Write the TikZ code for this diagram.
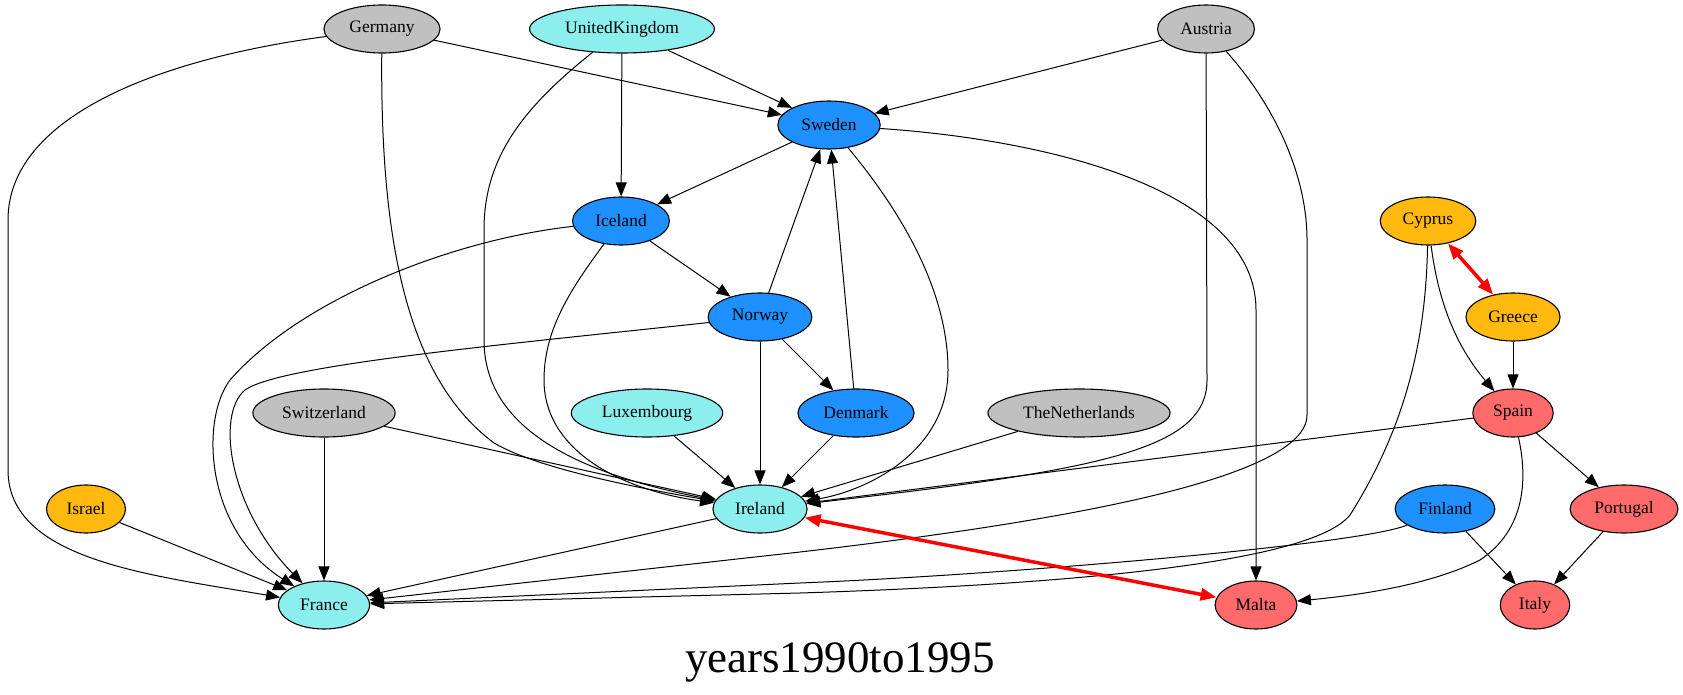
\documentclass[tikz,border=0pt]{standalone}
\usepackage{fontspec}
\setmainfont{Liberation Serif}
\usetikzlibrary{arrows.meta,shapes.geometric}
\definecolor{cgrey}{HTML}{C0C0C0}
\definecolor{ccyan}{HTML}{8DEEEE}
\definecolor{cblue}{HTML}{1E90FF}
\definecolor{cgold}{HTML}{FFB90F}
\definecolor{cred}{HTML}{FF6A6A}
\begin{document}
\begin{tikzpicture}[x=1pt,y=-1pt,
   country/.style={draw,ellipse,line width=1.1pt,minimum height=48pt,inner xsep=8.5pt,inner ysep=2pt,font=\fontsize{17.5}{20}\selectfont},
   link/.style={line width=1pt,-{Triangle[length=14pt,width=11pt]}},
   treaty/.style={red,line width=3.5pt,{Triangle[length=16pt,width=12pt]}-{Triangle[length=16pt,width=12pt]}}]
   \useasboundingbox (0,0) rectangle (1683,695);
   % row 1
   \node[country,fill=cgrey] (germany) at (382,29) {Germany};
   \node[country,fill=ccyan] (uk) at (622,29) {UnitedKingdom};
   \node[country,fill=cgrey] (austria) at (1206,29) {Austria};
   % row 2
   \node[country,fill=cblue] (sweden) at (829,125) {Sweden};
   % row 3
   \node[country,fill=cblue] (iceland) at (621,221) {Iceland};
   \node[country,fill=cgold] (cyprus) at (1428,221) {Cyprus};
   % row 4
   \node[country,fill=cblue] (norway) at (760,317) {Norway};
   \node[country,fill=cgold] (greece) at (1513,317) {Greece};
   % row 5
   \node[country,fill=cgrey] (switzerland) at (324,413) {Switzerland};
   \node[country,fill=ccyan] (luxembourg) at (647,413) {Luxembourg};
   \node[country,fill=cblue] (denmark) at (856,413) {Denmark};
   \node[country,fill=cgrey] (netherlands) at (1079,413) {TheNetherlands};
   \node[country,fill=cred] (spain) at (1513,413) {Spain};
   % row 6
   \node[country,fill=cgold] (israel) at (86,509) {Israel};
   \node[country,fill=ccyan] (ireland) at (760,509) {Ireland};
   \node[country,fill=cblue] (finland) at (1445,509) {Finland};
   \node[country,fill=cred] (portugal) at (1624,509) {Portugal};
   % row 7
   \node[country,fill=ccyan] (france) at (324,605) {France};
   \node[country,fill=cred] (malta) at (1256,605) {Malta};
   \node[country,fill=cred] (italy) at (1535,605) {Italy};
   \node[font=\fontsize{45}{50}\selectfont,anchor=base] (title) at (840,672) {years1990to1995};
   % straight links
   \foreach \a/\b in {germany/sweden,uk/sweden,uk/iceland,austria/sweden,sweden/iceland,
      iceland/norway,norway/sweden,denmark/sweden,norway/denmark,norway/ireland,
      denmark/ireland,luxembourg/ireland,switzerland/ireland,netherlands/ireland,
      spain/ireland,switzerland/france,israel/france,ireland/france,greece/spain,
      spain/portugal,finland/italy,portugal/italy} {
    \draw[link] (\a) -- (\b);
   }
   % curved links
   \draw[link] (germany) .. controls (150,60) and (8,120) .. (8,220) -- (8,470)
      .. controls (8,560) and (150,575) .. (france);
   \draw[link] (germany) .. controls (380,250) and (410,380) .. (494,443)
      .. controls (540,470) and (650,490) .. (ireland);
   \draw[link] (uk) .. controls (520,110) and (484,160) .. (484,230) -- (484,340)
      .. controls (484,420) and (560,470) .. (ireland);
   \draw[link] (iceland) .. controls (570,290) and (544,330) .. (544,380)
      .. controls (544,450) and (620,490) .. (ireland);
   \draw[link] (iceland) .. controls (450,240) and (300,300) .. (230,380)
      .. controls (200,420) and (205,530) .. (france);
   \draw[link] (norway) .. controls (500,345) and (280,365) .. (245,390)
      .. controls (215,415) and (230,510) .. (france);
   \draw[link] (sweden) .. controls (900,210) and (948,290) .. (948,370)
      .. controls (948,450) and (870,490) .. (ireland);
   \draw[link] (sweden) .. controls (1050,140) and (1256,190) .. (1256,310) -- (malta);
   \draw[link] (austria) -- (1207,380) .. controls (1207,450) and (1100,470) .. (ireland);
   \draw[link] (austria) .. controls (1270,100) and (1307,170) .. (1307,240) -- (1307,415)
      .. controls (1307,480) and (1050,523) .. (800,552) -- (france);
   \draw[link] (cyprus) .. controls (1426,330) and (1410,420) .. (1350,515)
      .. controls (1310,565) and (1050,585) .. (800,593) -- (france);
   \draw[link] (cyprus) .. controls (1438,300) and (1455,345) .. (spain);
   \draw[link] (finland) .. controls (1360,545) and (1000,575) .. (800,583) -- (france);
   \draw[link] (spain) .. controls (1528,480) and (1525,530) .. (1480,560)
      .. controls (1430,585) and (1360,595) .. (malta);
   % red links
   \draw[treaty] (ireland) -- (malta);
   \draw[treaty] (cyprus) -- (greece);
\end{tikzpicture}
\end{document}
